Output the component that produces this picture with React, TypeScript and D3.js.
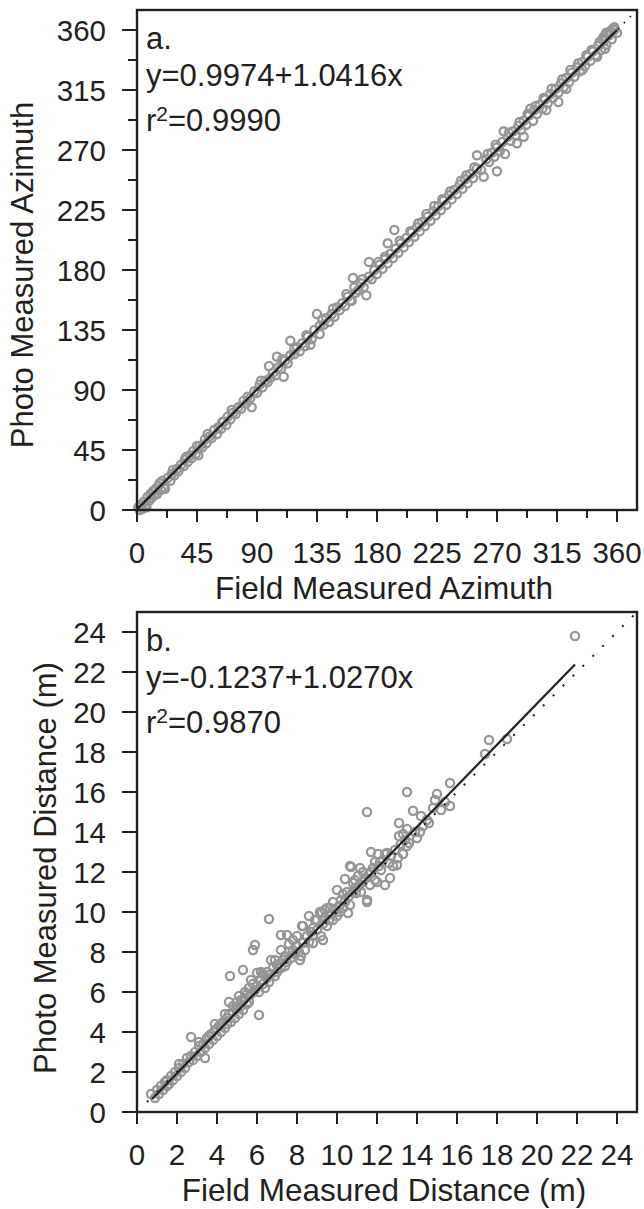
import * as d3 from "d3";

// ticks
const azimuthTicks = [0, 45, 90, 135, 180, 225, 270, 315, 360];
const azimuthMinor = [22.5, 67.5, 112.5, 157.5, 202.5, 247.5, 292.5, 337.5];
const distanceTicks = [0, 2, 4, 6, 8, 10, 12, 14, 16, 18, 20, 22, 24];

// panel a: field vs photo azimuth
const azimuthPoints: [number, number][] = [
  [1, 2], [2, 0], [3, 4], [4, 1], [5, 6], [6, 3], [7, 2], [8, 10], [9, 7], [10, 12],
  [11, 9], [12, 14], [13, 11], [14, 16], [15, 12], [16, 18], [18, 15], [19, 22], [20, 17], [21, 16],
  [23, 24], [25, 22], [26, 27], [28, 26], [30, 31], [31, 29], [33, 34], [35, 33], [36, 38], [38, 36],
  [40, 41], [41, 39], [42, 44], [44, 42], [46, 41], [47, 48], [49, 47], [51, 53], [52, 50], [54, 55],
  [56, 54], [58, 60], [60, 57], [61, 62], [63, 61], [65, 66], [67, 64], [68, 70], [70, 68], [72, 73],
  [74, 72], [76, 77], [78, 76], [80, 82], [82, 80], [85, 84], [86, 77], [88, 89], [90, 88], [92, 94],
  [94, 92], [96, 97], [98, 96], [99, 108], [100, 99], [102, 103], [104, 101], [105, 115], [106, 107], [108, 106],
  [110, 100], [111, 112], [113, 110], [115, 127], [115, 116], [118, 117], [120, 122], [122, 119], [124, 125], [126, 123],
  [128, 130], [130, 124], [131, 128], [133, 135], [135, 147], [137, 132], [137, 138], [140, 139], [142, 144], [144, 141],
  [146, 147], [148, 145], [150, 152], [152, 150], [154, 155], [156, 153], [158, 160], [160, 157], [161, 157], [162, 174],
  [164, 163], [166, 165], [168, 170], [170, 167], [172, 161], [174, 186], [174, 175], [176, 173], [178, 180], [180, 177],
  [182, 184], [184, 181], [186, 188], [188, 200], [188, 185], [190, 192], [192, 189], [193, 210], [194, 196], [196, 193],
  [198, 200], [200, 197], [202, 204], [204, 201], [206, 208], [208, 205], [210, 212], [212, 209], [214, 216], [216, 213],
  [218, 220], [220, 217], [222, 224], [224, 221], [226, 228], [228, 225], [230, 232], [232, 229], [234, 236], [236, 233],
  [238, 240], [240, 237], [242, 244], [244, 241], [246, 248], [248, 245], [250, 252], [252, 249], [255, 266], [255, 256],
  [258, 255], [260, 250], [262, 263], [264, 261], [266, 268], [268, 265], [270, 254], [270, 272], [272, 269], [275, 284],
  [274, 276], [276, 267], [278, 280], [280, 277], [282, 284], [284, 281], [285, 275], [286, 288], [288, 285], [290, 280],
  [290, 292], [292, 289], [294, 296], [295, 301], [297, 292], [298, 300], [300, 297], [302, 304], [304, 301], [307, 300],
  [306, 308], [308, 305], [310, 312], [312, 309], [314, 316], [316, 306], [316, 313], [318, 320], [320, 317], [322, 316],
  [322, 324], [324, 321], [326, 328], [328, 325], [330, 332], [332, 329], [334, 330], [334, 336], [336, 333], [338, 340],
  [340, 337], [342, 344], [345, 340], [344, 341], [346, 348], [348, 345], [350, 352], [351, 346], [352, 349], [354, 356],
  [356, 353], [358, 360], [360, 358], [358, 362], [355, 359], [350, 355], [352, 358],
  [45, 48], [64, 66], [83, 85], [118, 121], [139, 143], [163, 167], [186, 190], [205, 209], [217, 222], [229, 233],
  [247, 251], [263, 267], [279, 283], [293, 297], [305, 309], [319, 323], [331, 335], [341, 345], [349, 353], [357, 361],
  [17, 20], [27, 30], [37, 40], [53, 57], [71, 75], [93, 97], [109, 113], [127, 131], [147, 151], [157, 162],
  [169, 173], [181, 186], [197, 202], [211, 215], [223, 228], [235, 239], [243, 247], [253, 257], [269, 274], [287, 291],
  [299, 303], [311, 316], [325, 330], [337, 341], [347, 351], [353, 357],
];
const azimuthFit: [number, number][] = [[0, 0.5], [360, 360]];
const azimuthOneToOne: [number, number][] = [[0, 0], [375, 375]];

// panel b: field vs photo distance (m)
const distancePoints: [number, number][] = [
  [0.7, 0.9], [0.9, 0.7], [1.0, 1.1], [1.1, 0.9], [1.2, 1.3], [1.3, 1.1], [1.4, 1.5], [1.5, 1.3], [1.5, 1.6], [1.6, 1.4],
  [1.7, 1.8], [1.8, 1.6], [1.9, 2.0], [2.0, 1.8], [2.1, 2.2], [2.1, 2.4], [2.2, 2.0], [2.3, 2.4], [2.4, 2.2], [2.5, 2.7],
  [2.6, 2.5], [2.7, 3.75], [2.7, 2.8], [2.8, 2.6], [2.9, 3.0], [3.0, 2.8], [3.1, 3.3], [3.2, 3.0], [3.3, 3.4], [3.4, 2.7],
  [3.4, 3.2], [3.5, 3.7], [3.6, 3.4], [3.6, 3.8], [3.7, 3.9], [3.8, 3.6], [3.9, 4.1], [4.0, 3.8], [4.1, 4.3], [4.2, 4.0],
  [4.2, 4.4], [4.3, 4.5], [4.4, 4.2], [4.5, 4.7], [4.5, 4.4], [4.6, 5.5], [4.6, 4.9], [4.65, 6.8], [4.7, 4.5], [4.8, 5.0],
  [4.8, 5.3], [4.9, 4.7], [5.0, 5.2], [5.0, 5.5], [5.1, 4.9], [5.2, 5.6], [5.2, 5.3], [5.3, 5.1], [5.3, 7.1], [5.4, 5.7],
  [5.4, 6.0], [5.5, 5.4], [5.5, 5.9], [5.6, 6.2], [5.6, 5.5], [5.7, 5.9], [5.8, 6.4], [5.8, 8.1], [5.9, 8.35], [5.9, 6.1],
  [6.0, 6.95], [6.0, 6.3], [6.1, 4.85], [6.1, 6.0], [6.2, 6.6], [6.3, 6.4], [6.3, 6.9], [6.4, 6.2], [6.5, 6.7], [6.5, 7.0],
  [6.6, 9.65], [6.6, 6.5], [6.7, 7.6], [6.7, 6.9], [6.8, 7.2], [6.9, 6.8], [7.0, 7.35], [7.0, 7.0], [7.1, 7.4], [7.2, 8.85],
  [7.2, 8.1], [7.2, 7.2], [7.3, 7.6], [7.4, 7.3], [7.4, 7.8], [7.5, 8.85], [7.5, 7.5], [7.6, 8.0], [7.7, 7.7], [7.8, 8.6],
  [7.8, 8.1], [7.9, 7.9], [8.0, 8.3], [8.1, 8.0], [8.15, 7.6], [8.2, 7.8], [8.25, 9.3], [8.3, 8.45], [8.3, 9.3], [8.4, 8.1],
  [8.5, 8.8], [8.6, 9.8], [8.6, 8.5], [8.7, 9.0], [8.8, 8.45], [8.8, 9.2], [8.8, 8.85], [9.0, 9.6], [9.0, 9.1], [9.15, 10.0],
  [9.2, 8.8], [9.25, 9.95], [9.3, 8.6], [9.3, 9.4], [9.4, 9.7], [9.5, 10.2], [9.5, 9.3], [9.6, 9.6], [9.65, 10.2], [9.7, 9.9],
  [9.8, 10.5], [9.8, 9.6], [9.9, 10.1], [10.0, 11.1], [10.0, 9.8], [10.1, 10.3], [10.15, 10.0], [10.2, 10.6], [10.3, 10.2], [10.4, 11.65],
  [10.4, 10.5], [10.5, 11.0], [10.55, 9.95], [10.6, 10.8], [10.65, 10.35], [10.65, 12.3], [10.7, 12.25], [10.8, 11.45], [10.8, 11.0], [10.9, 11.2],
  [10.95, 10.95], [11.05, 11.8], [11.1, 11.3], [11.15, 12.2], [11.2, 11.0], [11.3, 12.0], [11.3, 11.5], [11.4, 11.7], [11.5, 15.0], [11.5, 10.6],
  [11.5, 10.5], [11.6, 11.9], [11.65, 11.35], [11.7, 13.0], [11.7, 12.0], [11.8, 12.2], [11.9, 11.6], [12.0, 11.5], [12.05, 12.9], [12.1, 12.3],
  [12.15, 12.5], [12.2, 12.1], [12.3, 12.6], [12.4, 11.35], [12.5, 12.95], [12.6, 12.45], [12.65, 11.7], [12.7, 12.8], [12.8, 12.3], [12.9, 13.1],
  [13.0, 12.35], [13.05, 12.7], [13.1, 14.45], [13.1, 13.8], [13.2, 13.4], [13.3, 12.9], [13.4, 13.6], [13.5, 13.3], [13.5, 16.0], [13.5, 14.15],
  [13.6, 13.45], [13.8, 15.06], [13.9, 14.0], [14.0, 13.7], [14.15, 14.0], [14.2, 14.8], [14.3, 14.3], [14.5, 14.6], [14.6, 14.45], [14.8, 15.2],
  [14.9, 15.6], [15.0, 15.9], [15.2, 15.1], [15.4, 15.5], [15.65, 15.3], [15.65, 16.45], [17.4, 17.9], [17.6, 18.6], [18.5, 18.65], [21.9, 23.8],
  [3.1, 3.5], [3.9, 4.4], [4.4, 4.9], [5.1, 5.8], [5.7, 6.6], [6.2, 7.0], [6.9, 7.6], [7.6, 8.4], [8.0, 8.8], [8.9, 9.6],
  [9.4, 10.1], [10.3, 10.9], [10.9, 11.6], [11.9, 12.5], [12.4, 12.9], [13.3, 13.9],
];
const distanceFit: [number, number][] = [[0.75, 0.65], [21.9, 22.37]];
const distanceOneToOne: [number, number][] = [[0.5, 0.5], [25, 25]];

const INK = "#231f20";
const GREY = "#969696";
const FONT = "'Liberation Sans', Arial, Helvetica, sans-serif";
const LEFT = 137;
const RIGHT = 637;

type PanelProps = {
  top: number;
  bottom: number;
  max: number;
  ticks: number[];
  minor: number[];
  points: [number, number][];
  fit: [number, number][];
  oneToOne: [number, number][];
  dash: string;
  letter: string;
  equation: string;
  r2: string;
  xTitle: string;
  yTitle: string;
  yTitleX: number;
  yTitleY: number;
};

function Panel(p: PanelProps) {
  const x = d3.scaleLinear().domain([0, p.max]).range([LEFT, RIGHT]);
  const y = d3.scaleLinear().domain([0, p.max]).range([p.bottom, p.top]);
  const line = d3
    .line<[number, number]>()
    .x((d) => x(d[0]))
    .y((d) => y(d[1]));

  return (
    <g>
      {p.points.map((d, i) => (
        <circle key={i} cx={x(d[0])} cy={y(d[1])} r={4.1} fill="none" stroke={GREY} strokeWidth={2.3} />
      ))}
      <path d={line(p.oneToOne) ?? ""} stroke={INK} strokeWidth={2} strokeDasharray={p.dash} fill="none" />
      <path d={line(p.fit) ?? ""} stroke={INK} strokeWidth={2.2} fill="none" />
      <rect x={LEFT} y={p.top} width={RIGHT - LEFT} height={p.bottom - p.top} fill="none" stroke={INK} strokeWidth={2.4} />

      {/* y axis */}
      {p.ticks.map((t) => (
        <g key={"y" + t}>
          <line x1={LEFT - 15} x2={LEFT} y1={y(t)} y2={y(t)} stroke={INK} strokeWidth={2} />
          <text x={106} y={y(t) + 11} textAnchor="end" fontSize={29.5}>
            {t}
          </text>
        </g>
      ))}
      {p.minor.map((t) => (
        <line key={"ym" + t} x1={LEFT - 9} x2={LEFT} y1={y(t)} y2={y(t)} stroke={INK} strokeWidth={2} />
      ))}

      {/* x axis */}
      {p.ticks.map((t) => (
        <g key={"x" + t}>
          <line x1={x(t)} x2={x(t)} y1={p.bottom} y2={p.bottom + 12} stroke={INK} strokeWidth={2} />
          <text x={x(t)} y={p.bottom + 53} textAnchor="middle" fontSize={29.5}>
            {t}
          </text>
        </g>
      ))}
      {p.minor.map((t) => (
        <line key={"xm" + t} x1={x(t)} x2={x(t)} y1={p.bottom} y2={p.bottom + 8} stroke={INK} strokeWidth={2} />
      ))}

      <text x={384} y={p.bottom + 89} textAnchor="middle" fontSize={31.5}>
        {p.xTitle}
      </text>
      <text
        transform={`translate(${p.yTitleX},${p.yTitleY}) rotate(-90)`}
        textAnchor="middle"
        fontSize={31}
      >
        {p.yTitle}
      </text>

      {/* annotations */}
      <text x={146} y={p.top + 39} fontSize={31}>
        {p.letter}
      </text>
      <text x={146} y={p.top + 76} fontSize={31}>
        {p.equation}
      </text>
      <text x={146} y={p.top + 121} fontSize={31}>
        r<tspan fontSize={21} dy={-10}>2</tspan>
        <tspan dy={10}>{p.r2}</tspan>
      </text>
    </g>
  );
}

export default function App() {
  return (
    <svg
      width={644}
      height={1209}
      style={{ position: "absolute", left: 0, top: 0, background: "#fff" }}
      fontFamily={FONT}
      fill={INK}
    >
      <Panel
        top={10}
        bottom={510}
        max={375}
        ticks={azimuthTicks}
        minor={azimuthMinor}
        points={azimuthPoints}
        fit={azimuthFit}
        oneToOne={azimuthOneToOne}
        dash="1.5 7"
        letter="a."
        equation="y=0.9974+1.0416x"
        r2="=0.9990"
        xTitle="Field Measured Azimuth"
        yTitle="Photo Measured Azimuth"
        yTitleX={33}
        yTitleY={275}
      />
      <Panel
        top={612}
        bottom={1112}
        max={25}
        ticks={distanceTicks}
        minor={[]}
        points={distancePoints}
        fit={distanceFit}
        oneToOne={distanceOneToOne}
        dash="2 12"
        letter="b."
        equation="y=-0.1237+1.0270x"
        r2="=0.9870"
        xTitle="Field Measured Distance (m)"
        yTitle="Photo Measured Distance (m)"
        yTitleX={56}
        yTitleY={868}
      />
    </svg>
  );
}
